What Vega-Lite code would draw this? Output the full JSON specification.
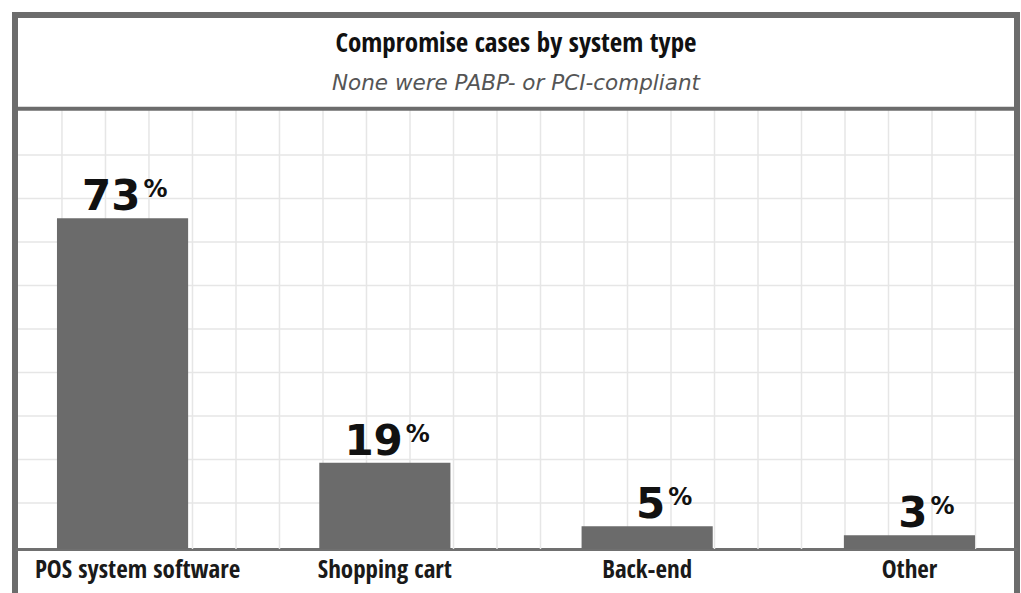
{
  "$schema": "https://vega.github.io/schema/vega-lite/v6.json",
  "width": 1002,
  "height": 581,
  "autosize": {"type": "none"},
  "padding": {"left": 15, "top": 15, "right": 4, "bottom": -3},
  "background": "white",
  "title": {
    "text": "Compromise cases by system type",
    "subtitle": "None were PABP- or PCI-compliant",
    "anchor": "middle",
    "frame": "group",
    "offset": -80,
    "font": "Noto Sans Condensed, Open Sans Condensed, Liberation Sans Narrow, DejaVu Sans Condensed, sans-serif",
    "fontSize": 27,
    "fontWeight": "bold",
    "color": "#111111",
    "subtitleFont": "DejaVu Sans",
    "subtitleFontSize": 21.5,
    "subtitleFontStyle": "italic",
    "subtitleColor": "#555555",
    "subtitlePadding": 15
  },
  "config": {
    "view": {"stroke": "#6c6c6c", "strokeWidth": 6}
  },
  "datasets": {
    "cases": [
      {"system": "POS system software", "share": 73},
      {"system": "Shopping cart", "share": 19},
      {"system": "Back-end", "share": 5},
      {"system": "Other", "share": 3}
    ],
    "gridColumns": [
      {"gx": 1.08}, {"gx": 2.08}, {"gx": 3.08}, {"gx": 4.08}, {"gx": 5.08},
      {"gx": 6.08}, {"gx": 7.08}, {"gx": 8.08}, {"gx": 9.08}, {"gx": 10.08},
      {"gx": 11.08}, {"gx": 12.08}, {"gx": 13.08}, {"gx": 14.08}, {"gx": 15.08},
      {"gx": 16.08}, {"gx": 17.08}, {"gx": 18.08}, {"gx": 19.08}, {"gx": 20.08},
      {"gx": 21.08}, {"gx": 22.08}
    ],
    "gridRows": [
      {"gy": 10.16}, {"gy": 19.76}, {"gy": 29.37}, {"gy": 38.97}, {"gy": 48.58},
      {"gy": 58.18}, {"gy": 67.79}, {"gy": 77.39}, {"gy": 87.0}
    ]
  },
  "layer": [
    {
      "data": {"name": "gridColumns"},
      "mark": {"type": "rule", "color": "#e6e6e6", "strokeWidth": 1.5},
      "encoding": {
        "x": {"field": "gx", "type": "quantitative", "scale": {"domain": [0, 23.034], "nice": false, "zero": false}, "axis": null},
        "y": {
          "datum": 0,
          "type": "quantitative",
          "title": null,
          "scale": {"domain": [-10.4, 117.9], "nice": false, "zero": false},
          "axis": null
        },
        "y2": {"datum": 97.17}
      }
    },
    {
      "data": {"name": "gridRows"},
      "mark": {"type": "rule", "color": "#e6e6e6", "strokeWidth": 1.5},
      "encoding": {
        "x": {"datum": 0.07, "type": "quantitative", "scale": {"domain": [0, 23.034], "nice": false, "zero": false}, "axis": null},
        "x2": {"datum": 22.96},
        "y": {"field": "gy", "type": "quantitative", "title": null}
      }
    },
    {
      "data": {"values": [{}]},
      "mark": {"type": "rule", "color": "#6c6c6c", "strokeWidth": 4},
      "encoding": {"y": {"datum": 97.17, "type": "quantitative", "title": null}}
    },
    {
      "data": {"name": "cases"},
      "encoding": {
        "x": {
          "field": "system",
          "type": "nominal",
          "sort": null,
          "scale": {"type": "band", "paddingInner": 0.5, "paddingOuter": 0.16},
          "axis": {
            "title": null,
            "orient": "bottom",
            "offset": -47,
            "domainColor": "#707070",
            "domainWidth": 3,
            "ticks": false,
            "tickSize": 0,
            "grid": false,
            "labelAngle": 0,
            "labelLimit": 0,
            "labelPadding": 8,
            "labelOffset": {"condition": {"test": "datum.value === 'POS system software'", "value": 15}, "value": 0},
            "labelFont": "Noto Sans Condensed, Open Sans Condensed, Liberation Sans Narrow, DejaVu Sans Condensed, sans-serif",
            "labelFontSize": 25,
            "labelFontWeight": "bold",
            "labelColor": "#1a1a1a"
          }
        },
        "y": {"field": "share", "type": "quantitative", "title": null}
      },
      "layer": [
        {
          "mark": {"type": "bar", "color": "#6b6b6b"},
          "encoding": {"y2": {"datum": 0}}
        },
        {
          "mark": {
            "type": "text",
            "align": "right",
            "baseline": "alphabetic",
            "dx": 18,
            "dy": -8,
            "font": "DejaVu Sans",
            "fontWeight": "bold",
            "fontSize": 42,
            "color": "#111111"
          },
          "encoding": {"text": {"field": "share", "type": "quantitative"}}
        },
        {
          "mark": {
            "type": "text",
            "align": "left",
            "baseline": "alphabetic",
            "dx": 21,
            "dy": -21,
            "font": "DejaVu Sans",
            "fontWeight": "bold",
            "fontSize": 24,
            "color": "#111111",
            "text": "%"
          }
        }
      ]
    }
  ],
  "resolve": {"scale": {"x": "independent"}, "axis": {"x": "independent", "y": "shared"}}
}
